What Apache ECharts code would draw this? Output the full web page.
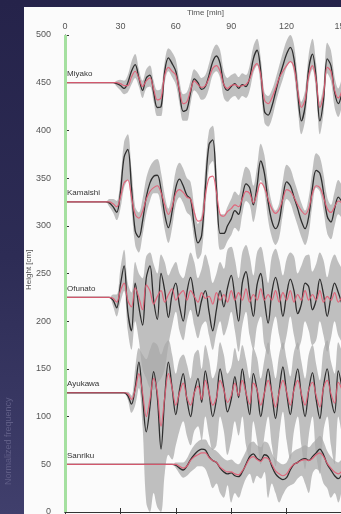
<!DOCTYPE html>
<html><head><meta charset="utf-8">
<script src="https://cdn.jsdelivr.net/npm/echarts@6/dist/echarts.min.js"></script>
<style>
html,body{margin:0;padding:0;width:341px;height:514px;overflow:hidden;background:linear-gradient(180deg,#25234a 0%,#2d2c55 50%,#403f6c 100%);}
#panel{position:absolute;left:24px;top:7px;width:317px;height:507px;background:#fbfbfb;}
#c{position:absolute;left:0;top:0;width:341px;height:514px;}
</style></head><body>
<div id="panel"></div><div id="c"></div>
<script>
const times = [0,2,4,6,8,10,12,14,16,18,20,22,24,26,28,30,32,34,36,38,40,42,44,46,48,50,52,54,56,58,60,62,64,66,68,70,72,74,76,78,80,82,84,86,88,90,92,94,96,98,100,102,104,106,108,110,112,114,116,118,120,122,124,126,128,130,132,134,136,138,140,142,144,146,148,150];
const xTicks = ['0','30','60','90','120','150'];
const yTicks = [0,50,100,150,200,250,300,350,400,450,500];
const stationNames = ['Miyako','Kamaishi','Ofunato','Ayukawa','Sanriku'];

// Miyako
const miyakoObs = [450,450,450,450,450,450,450,450,450,450,450,450,450,450,
449,447,444,450,462,469,455,442,455,458,440,424,425,462,476,470,462,440,420,422,440,454,450,443,446,458,472,478,470,448,442,446,449,444,448,446,455,475,484,462,420,416,425,440,455,468,480,487,475,440,410,425,465,480,455,410,432,475,468,440,428,440];
const miyakoMean = [450,450,450,450,450,450,450,450,450,450,450,450,450,450,
450,449,447,447,456,462,455,446,452,455,443,432,434,458,466,462,458,442,428,430,442,452,448,445,447,455,465,468,462,448,444,447,448,446,447,448,454,465,470,458,432,428,434,444,455,462,468,472,466,442,424,432,458,468,452,424,438,466,462,442,434,442];
const miyakoLow = [450,450,450,450,450,450,450,450,450,450,450,450,450,450,
446,442,438,440,448,455,446,434,444,446,430,415,415,450,462,456,448,428,410,410,428,442,438,432,434,444,458,462,455,434,430,434,436,432,436,434,442,460,468,446,408,404,412,428,442,454,466,472,460,424,396,410,450,464,440,396,418,460,452,424,414,426];
const miyakoHigh = [450,450,450,450,450,450,450,450,450,450,450,450,450,450,
452,453,452,458,472,480,464,452,464,468,452,442,444,472,486,482,474,452,438,440,452,464,460,455,458,470,484,490,484,462,455,458,460,456,460,458,468,488,496,476,440,436,442,454,468,482,494,500,490,456,430,442,480,496,470,430,448,492,484,456,444,456];

// Kamaishi
const kamaishiObs = [325,325,325,325,325,325,325,325,325,325,325,325,
324,320,314,335,372,380,340,295,288,305,330,345,352,353,338,312,298,315,340,349,342,332,328,300,282,290,340,385,390,340,292,292,300,307,316,312,330,344,340,322,342,368,355,325,305,297,305,330,346,342,330,318,305,297,310,340,358,355,335,310,304,318,330,325];
const kamaishiMean = [325,325,325,325,325,325,325,325,325,325,325,325,
325,323,320,330,345,348,330,312,308,315,328,336,340,342,335,322,312,320,334,338,335,330,328,314,305,306,332,350,352,335,312,310,315,318,322,320,328,336,334,324,334,345,340,328,318,313,317,328,338,336,330,322,316,312,318,334,342,340,330,318,314,320,326,324];
const kamaishiLow = [325,325,325,325,325,325,325,325,325,325,325,325,
320,314,306,318,340,348,318,280,272,290,312,326,334,334,320,296,282,298,322,330,324,314,310,284,265,272,318,362,368,318,275,276,284,290,298,294,312,326,322,304,322,348,336,306,288,280,288,312,328,324,312,300,288,280,292,322,340,336,316,292,286,300,312,308];
const kamaishiHigh = [325,325,325,325,325,325,325,325,325,325,325,325,
328,328,326,348,388,396,360,320,314,328,350,362,368,370,356,332,318,334,358,366,360,350,346,320,302,312,362,400,405,362,312,312,320,328,336,332,350,362,358,342,362,386,374,344,324,316,324,348,364,360,348,336,324,316,330,358,376,372,354,330,322,336,348,342];

// Ofunato
const ofunatoObs = [225,225,225,225,225,225,225,225,225,225,225,225,225,
222,214,238,258,210,190,240,215,196,245,258,222,202,250,232,204,228,240,216,200,230,246,226,205,222,232,210,190,212,232,215,235,248,225,200,240,252,228,205,238,250,222,198,230,246,230,205,228,244,232,208,218,240,236,212,222,244,228,205,225,240,230,218];
const ofunatoMean = [225,225,225,225,225,225,225,225,225,225,225,225,225,
224,220,232,240,222,215,235,225,212,238,232,218,226,232,220,228,234,222,228,232,222,232,226,220,230,224,226,218,230,222,228,220,232,222,230,222,234,220,228,222,234,222,228,222,232,220,230,222,232,220,228,222,232,222,228,222,232,220,226,222,230,220,226];
const ofunatoLow = [225,225,225,225,225,225,225,225,225,225,225,225,225,
216,205,220,232,190,170,200,180,150,140,130,128,135,140,150,175,195,210,190,180,200,212,195,182,195,200,185,170,188,200,185,195,210,190,168,195,210,185,170,195,205,175,165,190,205,185,170,185,205,185,170,180,200,190,175,180,200,185,168,182,200,185,178];
const ofunatoHigh = [225,225,225,225,225,225,225,225,225,225,225,225,225,
228,228,255,275,240,230,262,250,245,268,272,260,250,270,262,248,256,262,250,245,258,272,262,245,255,270,258,240,250,262,255,275,278,265,245,272,280,268,248,272,278,262,240,268,276,265,248,265,272,268,250,258,268,270,252,260,272,264,246,262,270,262,255];

// Ayukawa
const ayukawaObs = [125,125,125,125,125,125,125,125,125,125,125,125,125,125,125,125,125,
122,113,130,157,120,84,110,147,120,66,120,157,130,102,128,145,118,100,125,140,115,148,125,100,118,150,130,105,118,142,120,150,125,102,145,128,100,125,150,124,98,128,152,125,102,130,150,122,100,128,146,118,98,132,150,120,104,148,130];
const ayukawaMean = [125,125,125,125,125,125,125,125,125,125,125,125,125,125,125,125,125,
124,118,128,145,125,100,118,140,125,90,120,145,130,112,125,135,120,112,125,132,118,138,125,112,120,138,128,115,122,135,122,138,125,113,135,128,112,125,138,125,110,126,138,126,112,128,138,124,112,128,136,122,110,130,138,124,114,136,128];
const ayukawaLow = [125,125,125,125,125,125,125,125,125,125,125,125,125,125,125,125,125,
118,104,112,130,90,10,0,20,5,0,40,60,55,70,85,95,80,70,85,90,75,100,80,65,70,100,85,60,75,95,80,100,70,55,95,75,50,80,100,70,48,80,105,75,55,85,100,70,45,80,100,60,40,85,100,70,50,100,80];
const ayukawaHigh = [125,125,125,125,125,125,125,125,125,125,125,125,125,125,125,125,125,
126,122,150,172,165,160,170,178,175,165,175,180,165,145,160,165,155,140,165,170,150,175,160,140,150,178,165,145,152,172,158,175,160,140,172,162,140,160,178,160,140,165,178,160,142,168,178,158,140,165,175,155,138,170,180,158,145,178,168];

// Sanriku
const sanrikuObs = [50,50,50,50,50,50,50,50,50,50,50,50,50,50,50,50,50,50,50,50,50,50,50,50,50,50,50,50,50,50,
49,46,44,48,55,60,64,66,65,58,54,52,46,42,40,41,38,37,42,50,58,61,56,54,60,58,48,40,36,34,36,44,50,52,55,56,54,58,62,66,60,50,44,38,35,40];
const sanrikuMean = [50,50,50,50,50,50,50,50,50,50,50,50,50,50,50,50,50,50,50,50,50,50,50,50,50,50,50,50,50,50,
50,48,46,48,54,58,60,62,62,57,54,52,47,44,42,42,40,39,43,49,56,58,55,53,57,56,50,43,40,38,40,46,50,52,54,55,54,56,60,62,58,51,46,42,40,43];
const sanrikuLow = [50,50,50,50,50,50,50,50,50,50,50,50,50,50,50,50,50,50,50,50,50,50,50,50,50,50,50,50,50,50,
46,40,36,38,42,45,48,48,45,35,25,30,20,15,28,10,20,15,25,35,40,30,38,35,42,15,30,20,10,18,25,28,30,35,38,30,20,40,45,42,30,25,15,20,10,25];
const sanrikuHigh = [50,50,50,50,50,50,50,50,50,50,50,50,50,50,50,50,50,50,50,50,50,50,50,50,50,50,50,50,50,50,
52,52,52,56,64,70,74,76,76,70,66,64,60,56,54,55,52,50,56,64,72,74,70,68,74,72,62,55,52,50,52,60,64,66,68,70,68,72,76,80,74,64,58,54,52,56];

const stations = [
  {name: stationNames[0], obs: miyakoObs, mean: miyakoMean, low: miyakoLow, high: miyakoHigh},
  {name: stationNames[1], obs: kamaishiObs, mean: kamaishiMean, low: kamaishiLow, high: kamaishiHigh},
  {name: stationNames[2], obs: ofunatoObs, mean: ofunatoMean, low: ofunatoLow, high: ofunatoHigh},
  {name: stationNames[3], obs: ayukawaObs, mean: ayukawaMean, low: ayukawaLow, high: ayukawaHigh},
  {name: stationNames[4], obs: sanrikuObs, mean: sanrikuMean, low: sanrikuLow, high: sanrikuHigh}
];

const FONT = 'Liberation Sans, Arial, sans-serif';
const SMOOTH = 0.35;
const series = [];
stations.forEach(function(s, k){
  series.push({type:'line', name: s.name+' lo', stack: 'band'+k, data: s.low, symbol:'none', silent:true,
    smooth: SMOOTH, lineStyle:{opacity:0}, z:1});
  series.push({type:'line', name: s.name+' band', stack: 'band'+k, data: s.high.map(function(v,i){return v - s.low[i];}),
    symbol:'none', silent:true, smooth: SMOOTH, lineStyle:{opacity:0}, areaStyle:{color:'#a8a8a8', opacity:0.72}, z:1});
});
stations.forEach(function(s, k){
  series.push({type:'line', name: s.name+' obs', data: s.obs, symbol:'none', z:3, smooth: SMOOTH,
    lineStyle:{color:'#2e2e2e', width:1.3},
    markPoint: {symbol:'circle', symbolSize:2, itemStyle:{color:'rgba(0,0,0,0)'}, silent:true, animation:false,
      label:{show:true, formatter: s.name, position:[3,-12], fontSize:8, color:'#333', fontFamily: FONT},
      data:[{name: s.name, xAxis: 0, yAxis: s.obs[0]}]}
  });
});
stations.forEach(function(s, k){
  series.push({type:'line', name: s.name+' mean', data: s.mean, symbol:'none', z:4, smooth: SMOOTH,
    lineStyle:{color:'#e35d74', width:1.2, opacity:0.9}});
});
// green line at t = 0
series[0].markLine = {symbol:'none', silent:true, label:{show:false},
  lineStyle:{color:'#a5e0a0', width:3, type:'solid'}, data:[{xAxis: 0}]};

const chart = echarts.init(document.getElementById('c'), null, {renderer:'canvas'});
chart.setOption({
  backgroundColor: 'transparent',
  animation: false,
  grid: {left:65, right:-1, top:35, bottom:2, containLabel:false, outerBoundsMode:'none'},
  xAxis: [{
    type:'category', position:'top', data: times, boundaryGap:false,
    axisLine:{lineStyle:{color:'#333', width:1}},
    axisTick:{inside:true, length:4, interval:14, lineStyle:{color:'#333'}},
    axisLabel:{interval:14, fontSize:9, color:'#555', margin:4, fontFamily: FONT,
      formatter: function(v){ return xTicks.indexOf(String(v)) >= 0 ? String(v) : ''; }},
    splitLine:{show:false}
  },{
    type:'category', position:'bottom', data: times, boundaryGap:false,
    axisLine:{lineStyle:{color:'#333', width:1}},
    axisTick:{inside:true, length:4, interval:14, lineStyle:{color:'#333'}},
    axisLabel:{show:false}, splitLine:{show:false}
  }],
  yAxis: {
    type:'value', min: yTicks[0], max: yTicks[yTicks.length-1], interval: 50,
    axisLine:{show:true, lineStyle:{color:'#333', width:1}},
    axisTick:{show:true, inside:true, length:4, lineStyle:{color:'#333'}},
    axisLabel:{fontSize:9, color:'#555', margin:14, fontFamily: FONT},
    splitLine:{show:false}
  },
  graphic: [
    {type:'text', left:187, top:9, style:{text:'Time [min]', fontSize:8, fill:'#555', fontFamily: FONT}},
    {type:'text', x:25, y:290, rotation:Math.PI/2, style:{text:'Height [cm]', fontSize:8, fill:'#555', fontFamily: FONT}},
    {type:'text', x:4, y:485, rotation:Math.PI/2, style:{text:'Normalized frequency', fontSize:9, fill:'#5f5d86', fontFamily: FONT}}
  ],
  series: series
});
</script></body></html>
